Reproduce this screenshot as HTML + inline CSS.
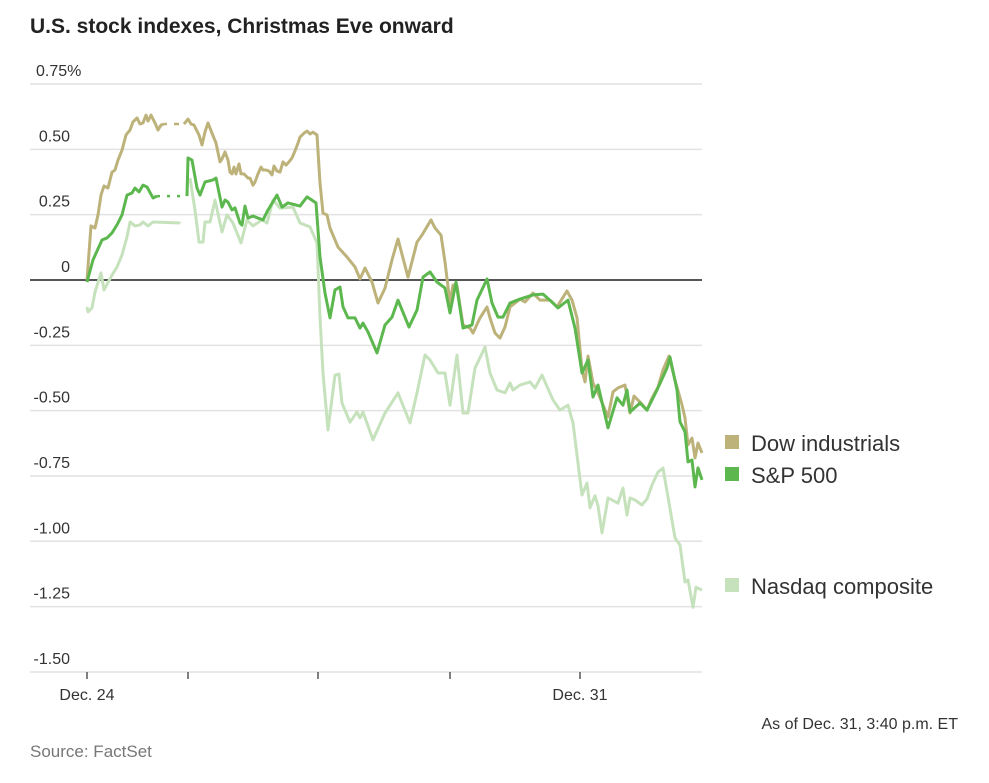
<!DOCTYPE html>
<html><head><meta charset="utf-8"><style>
body{margin:0;background:#fff;width:989px;height:783px;overflow:hidden;font-family:"Liberation Sans",sans-serif}
svg{position:absolute;left:0;top:0}
</style></head><body>
<svg width="989" height="783">
<text x="30" y="33" font-size="21" font-weight="bold" fill="#222">U.S. stock indexes, Christmas Eve onward</text>
<g id="grid"></g>
<g id="xaxis"></g>
<g id="lines"></g>
<g id="legend"></g>
<text x="958" y="729" font-size="16" fill="#333" text-anchor="end">As of Dec. 31, 3:40 p.m. ET</text>
<text x="30" y="757" font-size="17" fill="#777">Source: FactSet</text>
</svg>
<script>
const yTicks=[0.75,0.5,0.25,0,-0.25,-0.5,-0.75,-1.0,-1.25,-1.5];
const yTickLabels=["0.75%","0.50","0.25","0","-0.25","-0.50","-0.75","-1.00","-1.25","-1.50"];
const xTicks=[0,101,231,363,493];
const xTickLabels=["Dec. 24","","","","Dec. 31"];
const gapRange=[70,104];
const seriesNames=["Dow industrials","S&P 500","Nasdaq composite"];
const dowT=[0,4,8,11,14,17,21,25,28,31,35,39,43,46,50,53,56,59,61,64,68,71,74,77,89,97,101,104,107,112,115,118,121,125,129,133,135,138,141,143,145,147,149,152,154,157,159,161,163,166,168,171,174,176,179,182,185,187,190,193,196,199,202,205,208,211,213,217,220,223,226,230,233,236,240,243,251,260,268,273,278,285,291,298,305,311,321,330,335,344,348,354,358,363,366,370,376,383,386,393,400,403,408,413,418,423,433,438,446,453,463,470,480,485,490,495,498,501,506,511,516,521,526,531,538,543,547,553,560,565,571,576,582,588,595,598,601,605,608,611,615];
const dowV=[0,.207,.199,.249,.325,.360,.352,.413,.421,.459,.497,.555,.574,.605,.620,.597,.601,.631,.608,.631,.601,.574,.593,.597,.597,.597,.616,.597,.593,.555,.517,.567,.601,.562,.524,.452,.463,.490,.459,.413,.406,.432,.406,.444,.406,.406,.398,.390,.390,.363,.375,.406,.432,.421,.421,.417,.402,.436,.417,.413,.452,.440,.452,.467,.494,.524,.547,.562,.570,.559,.566,.555,.371,.256,.249,.199,.126,.088,.050,.004,.046,-.008,-.088,-.031,.077,.157,.011,.145,.172,.230,.199,.172,.069,-.088,-.019,-.023,-.172,-.184,-.203,-.145,-.103,-.145,-.203,-.222,-.180,-.103,-.073,-.084,-.050,-.077,-.077,-.103,-.042,-.077,-.145,-.344,-.390,-.291,-.394,-.432,-.478,-.524,-.428,-.413,-.402,-.509,-.444,-.467,-.498,-.452,-.410,-.344,-.291,-.383,-.478,-.528,-.631,-.605,-.681,-.624,-.662];
const spT=[0,6,15,20,25,30,35,40,45,48,52,56,60,66,70,100,101,105,110,113,118,126,129,135,138,141,145,148,153,155,158,161,166,171,176,181,190,195,201,213,220,229,233,238,243,248,253,256,261,268,273,276,281,290,298,305,311,322,330,336,343,350,358,363,369,376,385,390,400,405,411,416,423,433,446,456,466,471,481,488,495,501,506,511,521,530,536,540,543,553,560,570,580,583,590,593,598,601,605,608,611,615];
const spV=[-.008,.077,.153,.161,.180,.211,.249,.325,.333,.352,.337,.363,.356,.314,.321,.321,.467,.459,.352,.325,.375,.383,.390,.279,.306,.298,.268,.276,.218,.210,.283,.237,.245,.237,.230,.268,.325,.279,.295,.283,.318,.295,.088,-.050,-.145,-.038,-.027,-.103,-.145,-.145,-.184,-.165,-.199,-.279,-.172,-.142,-.077,-.180,-.115,.011,.031,-.008,-.031,-.126,-.008,-.184,-.172,-.077,.004,-.088,-.142,-.142,-.088,-.073,-.057,-.054,-.088,-.107,-.077,-.184,-.356,-.306,-.448,-.402,-.566,-.451,-.479,-.421,-.505,-.471,-.498,-.421,-.337,-.295,-.421,-.543,-.581,-.696,-.689,-.792,-.719,-.765];
const ndT=[0,1,5,8,14,17,25,30,35,40,43,48,53,56,61,66,93,103,108,112,116,118,123,128,135,140,146,154,160,166,175,180,186,193,206,213,223,230,233,236,241,248,252,255,263,270,273,276,286,298,311,323,330,338,343,351,358,363,370,376,381,388,398,403,410,418,423,426,433,443,448,455,466,473,481,486,490,495,500,503,508,511,515,521,531,536,540,543,548,555,560,565,571,576,582,588,593,598,601,606,609,615];
const ndV=[-.103,-.122,-.107,-.046,.027,-.038,.019,.050,.096,.165,.222,.207,.211,.222,.207,.222,.218,.390,.268,.145,.145,.222,.222,.306,.184,.249,.218,.142,.230,.207,.230,.218,.306,.275,.279,.218,.203,.142,-.141,-.356,-.574,-.364,-.360,-.471,-.544,-.505,-.528,-.505,-.612,-.509,-.432,-.547,-.432,-.287,-.306,-.356,-.356,-.479,-.287,-.509,-.509,-.337,-.257,-.356,-.421,-.432,-.394,-.421,-.402,-.390,-.413,-.364,-.459,-.498,-.479,-.547,-.670,-.823,-.777,-.872,-.826,-.864,-.968,-.834,-.854,-.796,-.900,-.834,-.842,-.861,-.838,-.785,-.735,-.720,-.853,-.987,-1.014,-1.156,-1.148,-1.253,-1.176,-1.187];
const colors=["#bcb27a","#5cb84e","#c6e2bd"];
const NS="http://www.w3.org/2000/svg";
const X=t=>87+t;
const Y=v=>280-v*261.3;
function mk(tag,attrs,parent){const e=document.createElementNS(NS,tag);for(const k in attrs)e.setAttribute(k,attrs[k]);parent.appendChild(e);return e;}
const grid=document.getElementById('grid');
yTicks.forEach((v,i)=>{
  const l=mk('line',{x1:30,x2:702,y1:Y(v),y2:Y(v),stroke:v===0?'#555':'#e2e2e2','stroke-width':v===0?2:1.5},grid);
  
  
  const tx=mk('text',{x:70,y:Y(v)-8,'font-size':16,fill:'#333','text-anchor':'end'},grid);
  tx.textContent=yTickLabels[i].replace('%','');
  if(yTickLabels[i].includes('%')){const p=mk('tspan',{},tx);p.textContent='%';tx.setAttribute('text-anchor','start');tx.setAttribute('x',36);}
  
  
});
const xa=document.getElementById('xaxis');
xTicks.forEach((t,i)=>{
  const l=mk('line',{x1:X(t),x2:X(t),y1:672,y2:679,stroke:'#555','stroke-width':1.5},xa);
  
  
  if(xTickLabels[i]){const tx=mk('text',{x:X(t),y:700,'font-size':16,fill:'#333','text-anchor':'middle'},xa);tx.textContent=xTickLabels[i];
  
  }
});
const lines=document.getElementById('lines');
const all=[[ndT,ndV],[dowT,dowV],[spT,spV]];const ci=[2,0,1];
all.forEach(([T,V],k)=>{
  const c=colors[ci[k]];
  let d='';
  for(let i=0;i<T.length;i++){
    const isGap=i>0&&T[i-1]>=gapRange[0]&&T[i]<=gapRange[1]&&T[i]-T[i-1]>=8;
    if(isGap){
      const g=mk('line',{x1:X(T[i-1]),y1:Y(V[i-1]),x2:X(T[i]),y2:Y(V[i]),stroke:c,'stroke-width':2.5,'stroke-dasharray':ci[k]===2?'1 30':'3 7'},lines);
      
      
      d+='M'+X(T[i])+' '+Y(V[i]);
    } else d+=(i?'L':'M')+X(T[i])+' '+Y(V[i]);
  }
  const p=mk('path',{d:d,fill:'none',stroke:c,'stroke-width':3,'stroke-linejoin':'round'},lines);
  
  
});
const lg=document.getElementById('legend');
const ly=[443,475,586];
seriesNames.forEach((n,i)=>{
  const r=mk('rect',{x:725,y:ly[i]-8,width:14,height:14,fill:colors[i]},lg);
  
  
  const t=mk('text',{x:751,y:ly[i]+8,'font-size':22,fill:'#333'},lg);t.textContent=n;
  
  
});
</script>
</body></html>
